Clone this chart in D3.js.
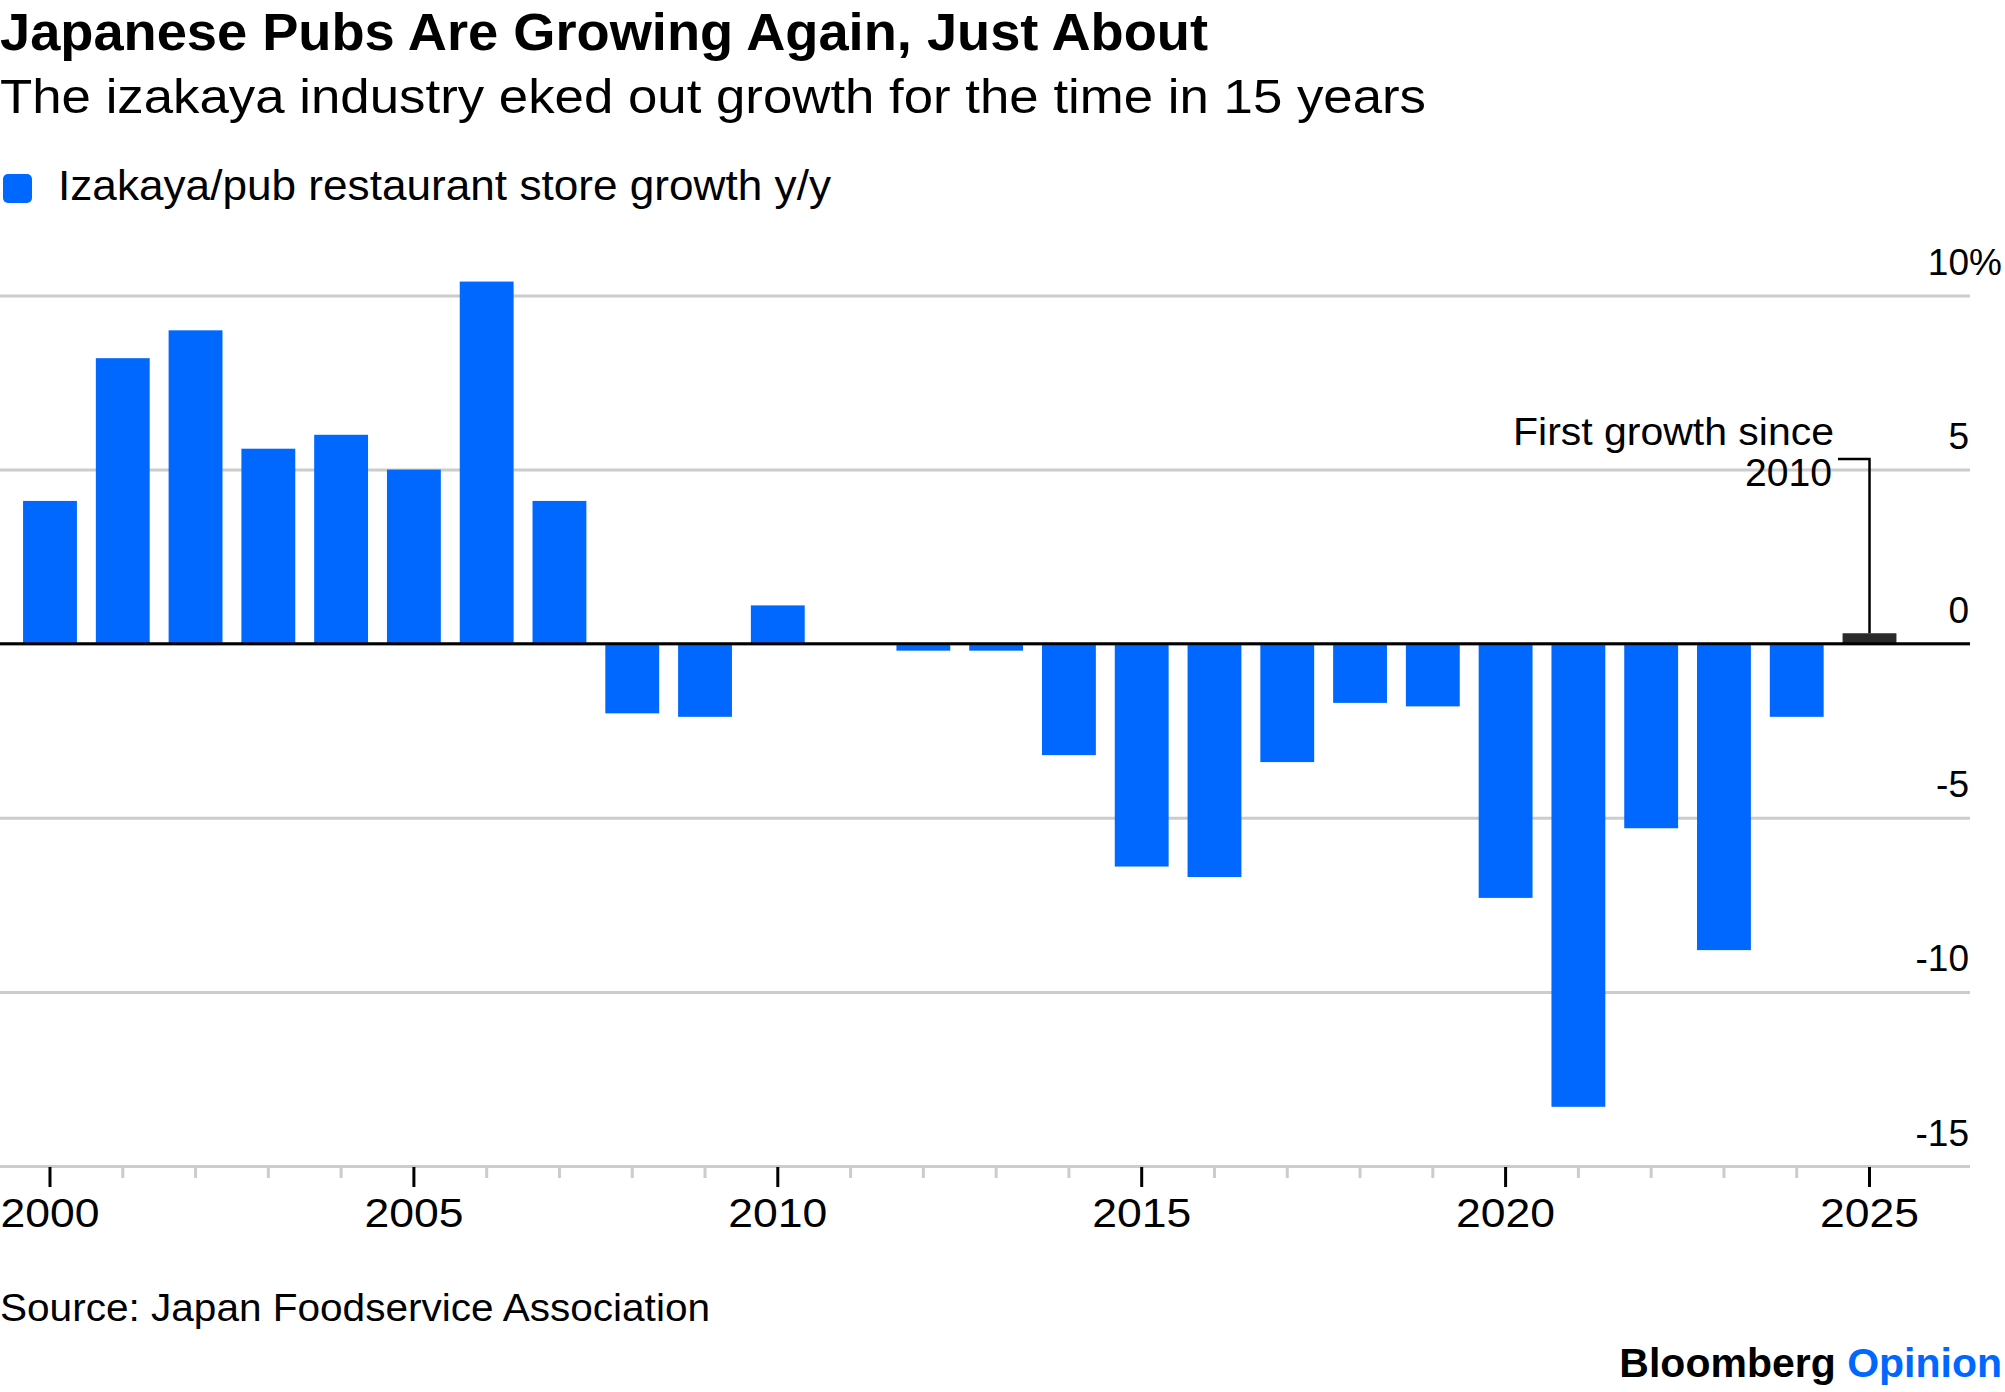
<!DOCTYPE html>
<html>
<head>
<meta charset="utf-8">
<script src="https://cdn.jsdelivr.net/npm/d3@7"></script>
<style>
  html, body { margin: 0; padding: 0; background: #fff; }
  svg { display: block; font-family: "Liberation Sans", Arial, sans-serif; }
</style>
</head>
<body>
<svg id="chart" width="2005" height="1392"></svg>
<script>
// data
const years = d3.range(2000, 2026);
const growth = [4.1, 8.2, 9.0, 5.6, 6.0, 5.0, 10.4, 4.1, -2.0, -2.1,
                1.1, 0, -0.2, -0.2, -3.2, -6.4, -6.7, -3.4, -1.7, -1.8,
                -7.3, -13.3, -5.3, -8.8, -2.1, 0.3];
const yTicks = [10, 5, 0, -5, -10, -15];
const xLabelYears = [2000, 2005, 2010, 2015, 2020, 2025];
const highlightYear = 2025;

const svg = d3.select('#chart');
const blue = '#0068ff';

// scales
const x = d3.scaleBand()
  .domain(years)
  .range([13.6, 1905.9])
  .paddingInner(0.26)
  .paddingOuter(0.13);

const y = d3.scaleLinear()
  .domain([-15, 10])
  .range([1166, 295.5]);

// header (reference font is wider than Liberation, so stretch to its width)
svg.append('text')
  .attr('x', 0).attr('y', 50)
  .attr('font-size', 51).attr('font-weight', 'bold')
  .attr('textLength', 1208).attr('lengthAdjust', 'spacingAndGlyphs')
  .text('Japanese Pubs Are Growing Again, Just About');

svg.append('text')
  .attr('x', 0).attr('y', 113)
  .attr('font-size', 49)
  .attr('textLength', 1426).attr('lengthAdjust', 'spacingAndGlyphs')
  .text('The izakaya industry eked out growth for the time in 15 years');

// legend
svg.append('rect')
  .attr('x', 3).attr('y', 174).attr('width', 29).attr('height', 29)
  .attr('rx', 5).attr('fill', blue);
svg.append('text')
  .attr('x', 58).attr('y', 200)
  .attr('font-size', 43)
  .attr('textLength', 773).attr('lengthAdjust', 'spacingAndGlyphs')
  .text('Izakaya/pub restaurant store growth y/y');

// y gridlines + labels
const yAxis = d3.axisRight(y)
  .tickValues(yTicks)
  .tickSize(-1970)
  .tickFormat(d => d);

const gy = svg.append('g')
  .attr('transform', 'translate(1970,0)')
  .call(yAxis);
gy.select('.domain').remove();
gy.selectAll('.tick line')
  .attr('stroke', '#cccccc')
  .attr('stroke-width', 3);
gy.selectAll('.tick text')
  .attr('x', -1)
  .attr('dy', -21)
  .attr('text-anchor', 'end')
  .attr('font-size', 37)
  .attr('font-family', null)
  .attr('fill', '#000');
gy.selectAll('.tick')
  .filter(d => d === yTicks[0])
  .append('text')
  .attr('x', -1)
  .attr('dy', -21)
  .attr('text-anchor', 'start')
  .attr('font-size', 37)
  .attr('fill', '#000')
  .text('%');

// x axis
const xAxis = d3.axisBottom(x)
  .tickValues(years)
  .tickSize(20)
  .tickFormat(d => xLabelYears.includes(d) ? d : '');

const gx = svg.append('g')
  .attr('transform', 'translate(0,1167)')
  .call(xAxis);
gx.select('.domain').remove();
gx.selectAll('.tick line')
  .attr('stroke', d => xLabelYears.includes(d) ? '#000' : '#cccccc')
  .attr('stroke-width', 3)
  .attr('y2', d => xLabelYears.includes(d) ? 20 : 11);
gx.selectAll('.tick text')
  .attr('y', 60)
  .attr('dy', 0)
  .attr('font-size', 40)
  .attr('font-family', null)
  .attr('fill', '#000')
  .filter(d => xLabelYears.includes(d))
  .attr('textLength', 99).attr('lengthAdjust', 'spacingAndGlyphs');

// bars
svg.append('g')
  .selectAll('rect')
  .data(years.map((yr, i) => ({ year: yr, value: growth[i] })).filter(d => d.value !== 0))
  .join('rect')
  .attr('x', d => x(d.year))
  .attr('width', x.bandwidth())
  .attr('y', d => y(Math.max(0, d.value)))
  .attr('height', d => Math.abs(y(d.value) - y(0)))
  .attr('fill', d => d.year === highlightYear ? '#2a2a2a' : blue);

// zero line
svg.append('line')
  .attr('x1', 0).attr('x2', 1970)
  .attr('y1', y(0)).attr('y2', y(0))
  .attr('stroke', '#000').attr('stroke-width', 3);

// annotation
const hx = x(highlightYear) + x.bandwidth() / 2;
const hv = growth[years.indexOf(highlightYear)];
svg.append('path')
  .attr('d', `M1838,459 H${hx} V${y(hv)}`)
  .attr('fill', 'none')
  .attr('stroke', '#000')
  .attr('stroke-width', 2.5);
svg.append('text')
  .attr('x', 1834).attr('y', 445)
  .attr('text-anchor', 'end')
  .attr('font-size', 38)
  .attr('textLength', 321).attr('lengthAdjust', 'spacingAndGlyphs')
  .text('First growth since');
svg.append('text')
  .attr('x', 1832).attr('y', 486)
  .attr('text-anchor', 'end')
  .attr('font-size', 38)
  .attr('textLength', 87).attr('lengthAdjust', 'spacingAndGlyphs')
  .text('2010');

// footer
svg.append('text')
  .attr('x', 0).attr('y', 1321)
  .attr('font-size', 38)
  .attr('textLength', 710).attr('lengthAdjust', 'spacingAndGlyphs')
  .text('Source: Japan Foodservice Association');

const brand = svg.append('text')
  .attr('x', 2002).attr('y', 1377)
  .attr('text-anchor', 'end')
  .attr('font-size', 41)
  .attr('font-weight', 'bold');
brand.append('tspan').attr('fill', '#000').text('Bloomberg ');
brand.append('tspan').attr('fill', blue).text('Opinion');
</script>
</body>
</html>
